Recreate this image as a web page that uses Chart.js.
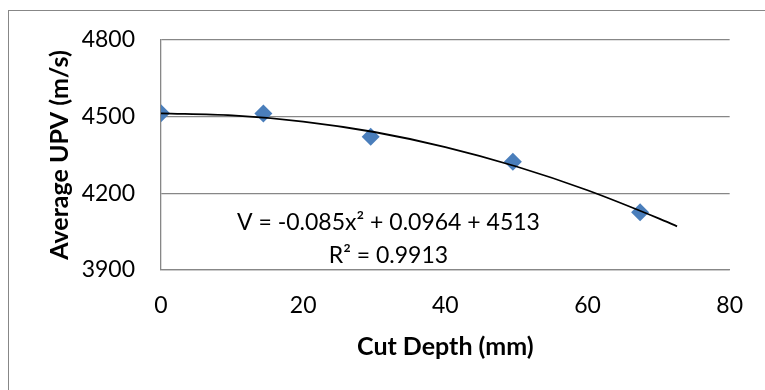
<!DOCTYPE html>
<html>
<head>
<meta charset="utf-8">
<script src="https://cdn.jsdelivr.net/npm/chart.js@4/dist/chart.umd.min.js"></script>
<style>
  html, body { margin: 0; padding: 0; background: #fff; overflow: hidden; }
  #wrap { position: relative; width: 765px; height: 390px; }
  #frame { position: absolute; left: 8px; top: 10px; width: 800px; height: 420px; border: 1px solid #878787; box-sizing: border-box; }
  canvas { position: absolute; left: 0; top: 0; }
</style>
</head>
<body>
<div id="wrap">
  <div id="frame"></div>
  <canvas id="chart" width="765" height="390"></canvas>
</div>
<script>
// measured points
const cutDepth = [0, 14.4, 29.5, 49.5, 67.4];
const avgUpv = [4513, 4512, 4421, 4324, 4126];

// trendline
const trendX = [0, 10, 20, 30, 40, 50, 60, 70, 72.6];
const trendY = [4513, 4505, 4481, 4440, 4381, 4305, 4212, 4102, 4071];

const xTicks = [0, 20, 40, 60, 80];
const yTicks = [3900, 4200, 4500, 4800];

const eqLines = ["V = -0.085x\u00b2 + 0.0964 + 4513", "R\u00b2 = 0.9913"];

const FONT = "Lato, 'Open Sans', sans-serif";
const GRID = "#878787";

const toPoints = (xs, ys) => xs.map((x, i) => ({ x, y: ys[i] }));

const equationLabel = {
  id: "equationLabel",
  afterDatasetsDraw(chart, args, opts) {
    const { ctx, scales } = chart;
    const cx = scales.x.getPixelForValue(opts.x);
    ctx.save();
    ctx.fillStyle = "#000";
    ctx.font = `23px ${FONT}`;
    ctx.textAlign = "center";
    ctx.textBaseline = "middle";
    opts.lines.forEach((t, i) => {
      ctx.fillText(t, cx, scales.y.getPixelForValue(opts.ys[i]));
    });
    ctx.restore();
  },
};

new Chart(document.getElementById("chart"), {
  type: "scatter",
  data: {
    datasets: [
      {
        label: "Trend",
        data: toPoints(trendX, trendY),
        showLine: true,
        borderColor: "#000",
        borderWidth: 1.8,
        pointRadius: 0,
        cubicInterpolationMode: "monotone",
        fill: false,
      },
      {
        label: "Average UPV",
        data: toPoints(cutDepth, avgUpv),
        pointStyle: "rectRot",
        pointRadius: 9,
        backgroundColor: "#4a7ebb",
        borderColor: "#4a7ebb",
        borderWidth: 0,
      },
    ],
  },
  options: {
    responsive: false,
    animation: false,
    layout: { padding: { top: 40, right: 32, bottom: 0, left: 0 } },
    plugins: {
      legend: { display: false },
      tooltip: { enabled: false },
      equationLabel: { x: 32, ys: [4084, 3955], lines: eqLines },
    },
    scales: {
      x: {
        type: "linear",
        min: 0,
        max: 80,
        afterFit: (s) => { s.height = 120; },
        afterBuildTicks: (s) => { s.ticks = xTicks.map((v) => ({ value: v })); },
        grid: { display: false, drawTicks: false },
        border: { display: true, color: GRID, width: 1.3 },
        ticks: { color: "#000", padding: 22, font: { family: FONT, size: 23 }, callback: (v) => String(v) },
        title: {
          display: true,
          text: "Cut Depth (mm)",
          color: "#000",
          font: { family: FONT, size: 25, weight: "bold" },
          padding: { top: 0, bottom: 28 },
        },
      },
      y: {
        type: "linear",
        min: 3900,
        max: 4800,
        afterFit: (s) => { s.width = 161; },
        afterBuildTicks: (s) => { s.ticks = yTicks.map((v) => ({ value: v })); },
        grid: { color: GRID, lineWidth: 1.3, drawTicks: false },
        border: { display: true, color: GRID, width: 1.3 },
        ticks: { color: "#000", padding: 26, font: { family: FONT, size: 23 }, callback: (v) => String(v) },
        title: {
          display: true,
          text: "Average UPV (m/s)",
          color: "#000",
          font: { family: FONT, size: 25, weight: "bold" },
          padding: { top: 45, bottom: 0 },
        },
      },
    },
  },
  plugins: [equationLabel],
});
</script>
</body>
</html>
